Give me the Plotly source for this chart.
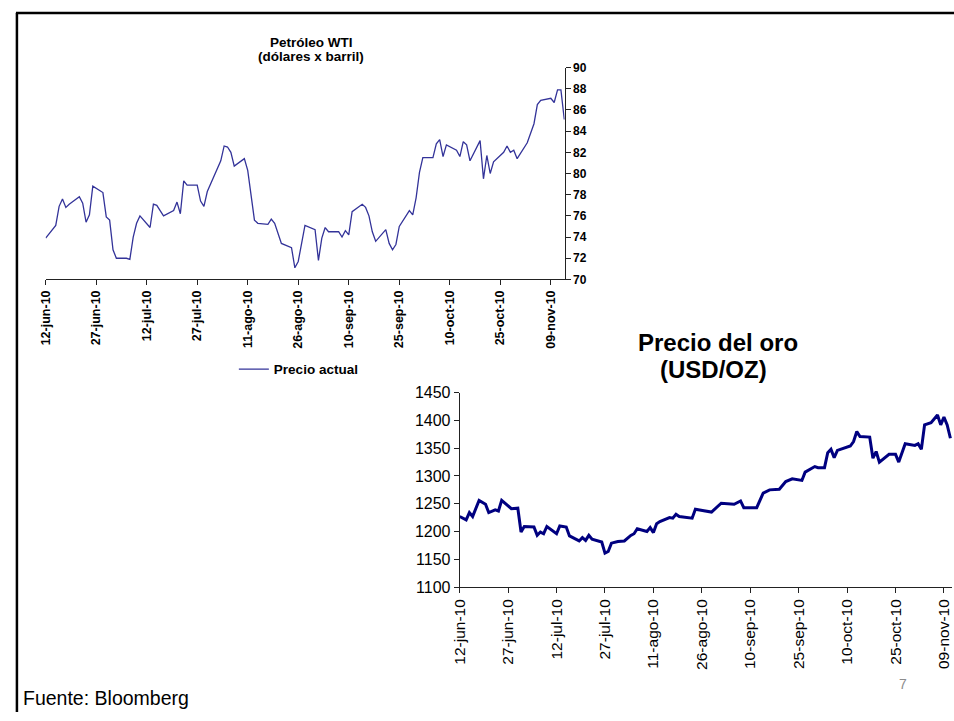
import plotly.graph_objects as go

# Petróleo WTI, precio diario (USD por barril)
wti_dates = [
    "2010-06-12", "2010-06-15", "2010-06-16", "2010-06-17", "2010-06-18", "2010-06-19", "2010-06-22", "2010-06-23", "2010-06-24", "2010-06-25",
    "2010-06-26", "2010-06-29", "2010-06-30", "2010-07-01", "2010-07-02", "2010-07-03", "2010-07-06", "2010-07-07", "2010-07-08", "2010-07-09",
    "2010-07-10", "2010-07-13", "2010-07-14", "2010-07-15", "2010-07-17", "2010-07-20", "2010-07-21", "2010-07-22", "2010-07-23", "2010-07-24",
    "2010-07-27", "2010-07-28", "2010-07-29", "2010-07-30", "2010-08-03", "2010-08-04", "2010-08-05", "2010-08-06", "2010-08-07", "2010-08-10",
    "2010-08-11", "2010-08-13", "2010-08-14", "2010-08-17", "2010-08-18", "2010-08-19", "2010-08-21", "2010-08-24", "2010-08-25", "2010-08-26",
    "2010-08-28", "2010-08-31", "2010-09-01", "2010-09-02", "2010-09-03", "2010-09-04", "2010-09-07", "2010-09-08", "2010-09-09", "2010-09-10",
    "2010-09-11", "2010-09-14", "2010-09-15", "2010-09-16", "2010-09-17", "2010-09-18", "2010-09-21", "2010-09-22", "2010-09-23", "2010-09-24",
    "2010-09-25", "2010-09-28", "2010-09-29", "2010-09-30", "2010-10-01", "2010-10-02", "2010-10-05", "2010-10-06", "2010-10-07", "2010-10-08",
    "2010-10-09", "2010-10-12", "2010-10-13", "2010-10-14", "2010-10-15", "2010-10-16", "2010-10-19", "2010-10-20", "2010-10-21", "2010-10-22",
    "2010-10-23", "2010-10-26", "2010-10-27", "2010-10-28", "2010-10-29", "2010-10-30", "2010-11-02", "2010-11-04", "2010-11-05", "2010-11-06",
    "2010-11-09", "2010-11-10", "2010-11-11", "2010-11-12", "2010-11-13",
]
wti_price = [
    73.9, 75.1, 76.9, 77.6, 76.8, 77.1, 77.8, 77.2, 75.4, 76.1,
    78.8, 78.2, 75.9, 75.6, 72.8, 72.0, 72.0, 71.9, 74.0, 75.3,
    76.0, 74.9, 77.1, 77.0, 76.0, 76.5, 77.3, 76.2, 79.3, 78.9,
    78.9, 77.4, 76.9, 78.3, 81.2, 82.6, 82.5, 82.0, 80.7, 81.4,
    80.3, 75.6, 75.3, 75.2, 75.7, 75.3, 73.4, 73.0, 71.1, 71.7,
    75.1, 74.7, 71.8, 73.9, 74.9, 74.5, 74.5, 74.0, 74.6, 74.2,
    76.4, 77.1, 76.8, 76.0, 74.5, 73.6, 74.7, 73.4, 72.8, 73.3,
    75.0, 76.5, 76.1, 77.7, 80.1, 81.5, 81.5, 82.8, 83.2, 81.6,
    82.7, 82.2, 81.6, 83.0, 82.7, 81.2, 83.1, 79.5, 81.7, 80.0,
    81.1, 82.0, 82.6, 82.0, 82.2, 81.4, 82.9, 84.7, 86.5, 86.9,
    87.1, 86.7, 87.9, 87.9, 85.1,
]

# Precio del oro (USD/OZ)
gold_dates = [
    "2010-06-12", "2010-06-14", "2010-06-15", "2010-06-16", "2010-06-18", "2010-06-20", "2010-06-21", "2010-06-23", "2010-06-24", "2010-06-25",
    "2010-06-28", "2010-06-30", "2010-07-01", "2010-07-02", "2010-07-05", "2010-07-06", "2010-07-07", "2010-07-08", "2010-07-09", "2010-07-12",
    "2010-07-13", "2010-07-15", "2010-07-16", "2010-07-19", "2010-07-20", "2010-07-21", "2010-07-22", "2010-07-23", "2010-07-26", "2010-07-27",
    "2010-07-28", "2010-07-29", "2010-07-31", "2010-08-02", "2010-08-04", "2010-08-05", "2010-08-06", "2010-08-09", "2010-08-10", "2010-08-11",
    "2010-08-12", "2010-08-13", "2010-08-16", "2010-08-17", "2010-08-18", "2010-08-19", "2010-08-23", "2010-08-24", "2010-08-29", "2010-08-31",
    "2010-09-01", "2010-09-05", "2010-09-07", "2010-09-08", "2010-09-12", "2010-09-14", "2010-09-16", "2010-09-19", "2010-09-21", "2010-09-23",
    "2010-09-26", "2010-09-27", "2010-09-30", "2010-10-01", "2010-10-03", "2010-10-04", "2010-10-05", "2010-10-06", "2010-10-07", "2010-10-11",
    "2010-10-12", "2010-10-13", "2010-10-14", "2010-10-17", "2010-10-18", "2010-10-19", "2010-10-20", "2010-10-23", "2010-10-25", "2010-10-26",
    "2010-10-28", "2010-10-31", "2010-11-01", "2010-11-02", "2010-11-03", "2010-11-05", "2010-11-07", "2010-11-08", "2010-11-09", "2010-11-10",
    "2010-11-11",
]
gold_price = [
    1227, 1221, 1234, 1227, 1256, 1249, 1234, 1239, 1237, 1256,
    1241, 1242, 1199, 1209, 1208, 1193, 1199, 1196, 1209, 1196,
    1210, 1208, 1192, 1183, 1189, 1184, 1193, 1186, 1181, 1161,
    1164, 1179, 1182, 1183, 1193, 1196, 1205, 1200, 1207, 1198,
    1214, 1218, 1225, 1224, 1231, 1227, 1224, 1240, 1235, 1246,
    1251, 1249, 1255, 1243, 1243, 1269, 1275, 1276, 1290, 1295,
    1292, 1307, 1317, 1315, 1315, 1342, 1348, 1333, 1346, 1354,
    1362, 1380, 1371, 1370, 1332, 1344, 1325, 1339, 1339, 1325,
    1358, 1355, 1358, 1348, 1392, 1396, 1410, 1392, 1406, 1392,
    1368,
]

tick_dates = ["2010-06-12", "2010-06-27", "2010-07-12", "2010-07-27", "2010-08-11", "2010-08-26",
              "2010-09-10", "2010-09-25", "2010-10-10", "2010-10-25", "2010-11-09"]
tick_text = ["12-jun-10", "27-jun-10", "12-jul-10", "27-jul-10", "11-ago-10", "26-ago-10",
             "10-sep-10", "25-sep-10", "10-oct-10", "25-oct-10", "09-nov-10"]

W, H = 954, 721
FONT = "Liberation Sans, Arial, sans-serif"


def px_x(v):
    return v / W


def px_y(v):
    return 1 - v / H


def label(text, x, y, size, xanchor="center", color="black", bold=False):
    return dict(text=text, x=px_x(x), y=px_y(y), xref="paper", yref="paper",
                xanchor=xanchor, yanchor="middle", showarrow=False,
                font=dict(size=size, family=FONT, color=color,
                          weight="bold" if bold else "normal"))


fig = go.Figure()

fig.add_trace(go.Scatter(
    x=wti_dates, y=wti_price, mode="lines", name="Precio actual",
    line=dict(color="#333399", width=1.3), xaxis="x", yaxis="y", showlegend=True,
))
fig.add_trace(go.Scatter(
    x=gold_dates, y=gold_price, mode="lines", name="oro",
    line=dict(color="#000080", width=3), xaxis="x2", yaxis="y2", showlegend=False,
))

axis_common = dict(showgrid=False, zeroline=False, showline=True, linecolor="#222",
                   ticks="outside", tickcolor="#222", ticklen=5, tickangle=-90,
                   tickvals=tick_dates, ticktext=tick_text)

fig.update_layout(
    width=W, height=H,
    margin=dict(l=0, r=0, t=0, b=0),
    paper_bgcolor="white", plot_bgcolor="white",
    font=dict(family=FONT, color="black"),
    xaxis=dict(**axis_common, domain=[px_x(37), px_x(561)], anchor="y",
               range=["2010-06-12", "2010-11-13 03:00"],
               tickfont=dict(size=12.5, family=FONT, weight="bold")),
    yaxis=dict(domain=[px_y(278), px_y(61)], anchor="x", side="right", range=[70, 90], dtick=2,
               showgrid=False, zeroline=False, showline=True, linecolor="#222",
               ticks="outside", tickcolor="#222", ticklen=5,
               tickfont=dict(size=12, family=FONT, weight="bold")),
    xaxis2=dict(**axis_common, domain=[px_x(455), px_x(952)], anchor="y2",
                range=["2010-06-12", "2010-11-11 12:00"],
                tickfont=dict(size=15.5, family=FONT)),
    yaxis2=dict(domain=[px_y(593), px_y(394)], anchor="x2", range=[1100, 1450], dtick=50,
                showgrid=False, zeroline=False, showline=True, linecolor="#222",
                ticks="outside", tickcolor="#222", ticklen=5,
                tickfont=dict(size=16, family=FONT)),
    legend=dict(x=px_x(227), y=px_y(370), xanchor="left", yanchor="middle",
                itemwidth=30, font=dict(size=13.5, family=FONT, weight="bold"),
                bgcolor="rgba(0,0,0,0)"),
    annotations=[
        label("Petróleo WTI", 305, 35, 13.5, bold=True),
        label("(dólares x barril)", 305, 50, 13.5, bold=True),
        label("Precio del oro", 716, 343, 24, bold=True),
        label("(USD/OZ)", 711, 370, 24, bold=True),
        label("Fuente: Bloomberg", 12, 707, 19.5, xanchor="left"),
        label("7", 903, 692, 14, color="#8c8c8c"),
    ],
    shapes=[
        dict(type="line", xref="paper", yref="paper", x0=px_x(8), x1=px_x(8), y0=px_y(5), y1=0,
             line=dict(color="black", width=2.5)),
        dict(type="line", xref="paper", yref="paper", x0=px_x(7), x1=1, y0=px_y(5), y1=px_y(5),
             line=dict(color="black", width=2.5)),
    ],
)

# the page's default body margin would push the 954x721 figure off the window
fig.write_html("out.html", config={"displayModeBar": False},
               post_script="document.body.style.margin='0';document.body.style.overflow='hidden';")
